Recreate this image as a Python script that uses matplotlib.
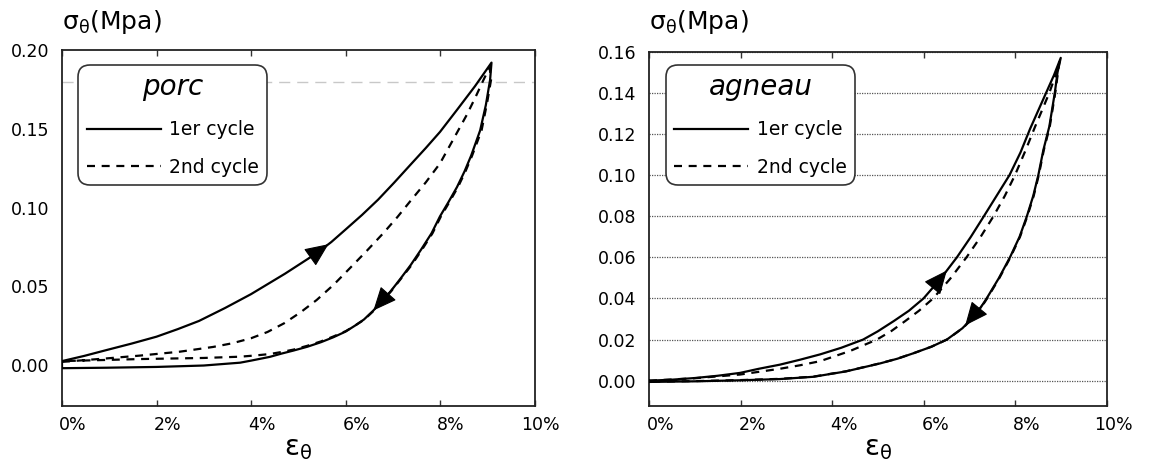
import numpy as np
import matplotlib
matplotlib.use("Agg")
import matplotlib.pyplot as plt
from matplotlib.lines import Line2D
from matplotlib.ticker import FuncFormatter, MultipleLocator
import matplotlib.transforms as mtransforms

# ---------------- data : porc ----------------
porc_c1_load_x = [0.0, 0.0047, 0.0094, 0.0147, 0.020, 0.0245, 0.029, 0.0345, 0.040, 0.0472, 0.054, 0.0570,
                  0.060, 0.0635, 0.0669, 0.0703, 0.0737, 0.0770, 0.080, 0.0836, 0.0874, 0.0909]
porc_c1_load_y = [0.0025, 0.0058, 0.0095, 0.0136, 0.0180, 0.0228, 0.0280, 0.0362, 0.0450, 0.0580, 0.0712, 0.0781,
                  0.0860, 0.0953, 0.1050, 0.1158, 0.1270, 0.1378, 0.1480, 0.1620, 0.1770, 0.1920]
porc_c1_unload_x = [0.0909, 0.0906, 0.0897, 0.0885, 0.0866, 0.0852, 0.0836, 0.0818, 0.080, 0.0782, 0.076,
                    0.0738, 0.0715, 0.0696, 0.0677, 0.0658, 0.0639, 0.0620, 0.060, 0.0574, 0.0548, 0.0519,
                    0.049, 0.0465, 0.044, 0.040, 0.0377, 0.030, 0.020, 0.0094, 0.0]
porc_c1_unload_y = [0.1920, 0.1810, 0.1650, 0.1490, 0.1330, 0.1230, 0.1130, 0.1035, 0.0944, 0.0836, 0.0733,
                    0.0635, 0.0543, 0.0470, 0.0405, 0.0343, 0.0289, 0.0250, 0.0212, 0.0176, 0.0145, 0.0116,
                    0.0092, 0.0073, 0.0052, 0.0028, 0.0015, -0.0003, -0.0012, -0.0017, -0.0020]
porc_c2_load_x = [0.0, 0.0094, 0.0165, 0.025, 0.032, 0.036, 0.040, 0.0435, 0.047, 0.0505, 0.0539, 0.0575,
                  0.061, 0.0645, 0.068, 0.0710, 0.0737, 0.077, 0.080, 0.0835, 0.0857, 0.0875, 0.0892, 0.0905]
porc_c2_load_y = [0.0020, 0.0042, 0.0060, 0.0085, 0.0115, 0.0138, 0.0170, 0.0210, 0.0265, 0.0335, 0.0413, 0.0510,
                  0.0617, 0.0725, 0.0837, 0.0940, 0.1040, 0.1160, 0.1280, 0.1470, 0.1590, 0.1700, 0.1810, 0.1890]
porc_c2_unload_x = [0.0905, 0.0908, 0.0900, 0.0888, 0.0868, 0.0854, 0.0838, 0.0820, 0.0802, 0.0784, 0.0762,
                    0.0740, 0.0716, 0.0697, 0.0678, 0.0659, 0.0640, 0.0621, 0.0601, 0.0575, 0.0548, 0.0519,
                    0.049, 0.0465, 0.044, 0.0410, 0.0377, 0.030, 0.0165, 0.0]
porc_c2_unload_y = [0.1890, 0.1810, 0.1670, 0.1490, 0.1330, 0.1230, 0.1130, 0.1035, 0.0944, 0.0836, 0.0733,
                    0.0635, 0.0543, 0.0470, 0.0405, 0.0343, 0.0289, 0.0252, 0.0216, 0.0182, 0.0150, 0.0122,
                    0.0098, 0.0083, 0.0070, 0.0061, 0.0053, 0.0045, 0.0038, 0.0025]

# ---------------- data : agneau ----------------
agn_c1_load_x = [0.0, 0.005, 0.010, 0.015, 0.0199, 0.024, 0.0286, 0.033, 0.0374, 0.042, 0.0468, 0.050, 0.0535,
                 0.0568, 0.060, 0.0637, 0.0673, 0.0703, 0.0732, 0.076, 0.0788, 0.0812, 0.0833, 0.0851, 0.0868,
                 0.0885, 0.0900]
agn_c1_load_y = [0.0, 0.0005, 0.0013, 0.0024, 0.0038, 0.0058, 0.0078, 0.0102, 0.0128, 0.0160, 0.0200, 0.0240, 0.0290,
                 0.0340, 0.0400, 0.0495, 0.0600, 0.0698, 0.0800, 0.0900, 0.1000, 0.1110, 0.1225, 0.1315, 0.1400,
                 0.1485, 0.1570]
agn_c1_unload_x = [0.0900, 0.0893, 0.0887, 0.0875, 0.0862, 0.0851, 0.0840, 0.0826, 0.0810, 0.0789, 0.0765,
                   0.0738, 0.0716, 0.0685, 0.0651, 0.0617, 0.0580, 0.0543, 0.0505, 0.0430, 0.0359, 0.0286,
                   0.0199, 0.010, 0.0]
agn_c1_unload_y = [0.1570, 0.1500, 0.1400, 0.1236, 0.1122, 0.1000, 0.0900, 0.0800, 0.0700, 0.0600, 0.0500,
                   0.0400, 0.0325, 0.0255, 0.0200, 0.0165, 0.0135, 0.0107, 0.0084, 0.0045, 0.0019, 0.0008,
                   0.0002, -0.0003, -0.0006]
agn_c2_load_x = [0.0, 0.010, 0.0199, 0.0286, 0.033, 0.0374, 0.044, 0.0498, 0.0530, 0.056, 0.059, 0.0621, 0.0658,
                 0.0694, 0.0725, 0.0753, 0.0778, 0.0800, 0.0823, 0.0844, 0.0860, 0.0875, 0.0887, 0.0897]
agn_c2_load_y = [0.0, 0.0012, 0.0030, 0.0058, 0.0075, 0.0095, 0.0145, 0.0200, 0.0242, 0.0290, 0.0340, 0.0400, 0.0495,
                 0.0600, 0.0700, 0.0800, 0.0900, 0.1000, 0.1120, 0.1236, 0.1320, 0.1400, 0.1475, 0.1550]
agn_c2_unload_x = [0.0897, 0.0894, 0.0888, 0.0876, 0.0863, 0.0852, 0.0841, 0.0827, 0.0811, 0.0790, 0.0766,
                   0.0739, 0.0717, 0.0686, 0.0652, 0.0618, 0.0581, 0.0544, 0.0506, 0.0431, 0.0360, 0.0286,
                   0.0199, 0.010, 0.0]
agn_c2_unload_y = [0.1550, 0.1500, 0.1400, 0.1236, 0.1122, 0.1000, 0.0900, 0.0800, 0.0700, 0.0600, 0.0500,
                   0.0400, 0.0325, 0.0256, 0.0201, 0.0166, 0.0136, 0.0108, 0.0085, 0.0046, 0.0020, 0.0009,
                   0.0003, -0.0002, -0.0005]

# arrow positions (x of tail, x of tip) along branches
porc_arrow_load = (0.0520, 0.0564)
porc_arrow_unload = (0.0702, 0.0659)
agn_arrow_load = (0.0615, 0.0651)
agn_arrow_unload = (0.0732, 0.0691)

x_ticks = [0.0, 0.02, 0.04, 0.06, 0.08, 0.10]
legend_labels = ["1er cycle", "2nd cycle"]
ylabel_text = r"$\mathregular{σ_θ}$(Mpa)"
xlabel_text = r"$\mathregular{ε_θ}$"

W, H = 1154, 461
fig = plt.figure(figsize=(W / 100, H / 100), dpi=100)
ax1 = fig.add_axes([62 / W, 1 - 406 / H, 472.5 / W, 356 / H])
ax2 = fig.add_axes([649 / W, 1 - 406 / H, 457.5 / W, 354.3 / H])

LW = 1.6
DASH = (0, (3.6, 3.0))


def cycle(lx, ly, ux, uy):
    x = np.concatenate([lx, ux, lx[:1]])
    y = np.concatenate([ly, uy, ly[:1]])
    return x, y


def arrow_on(ax, xs, ys, x_tail, x_tip):
    xs = np.asarray(xs, float)
    ys = np.asarray(ys, float)
    o = np.argsort(xs)
    yt = np.interp(x_tail, xs[o], ys[o])
    yh = np.interp(x_tip, xs[o], ys[o])
    ax.annotate("", xy=(x_tip, yh), xytext=(x_tail, yt), zorder=4,
                arrowprops=dict(arrowstyle="-|>,head_length=0.68,head_width=0.30",
                                mutation_scale=22, color="k", lw=0.8,
                                shrinkA=0, shrinkB=0))


def style(ax, ylim, ystep, xoff_px):
    ax.set_xlim(0, 0.10)
    ax.set_ylim(*ylim)
    ax.set_xticks(x_ticks)
    ax.xaxis.set_major_formatter(FuncFormatter(lambda v, p: f"{v * 100:.0f}%"))
    ax.yaxis.set_major_locator(MultipleLocator(ystep))
    ax.yaxis.set_major_formatter(FuncFormatter(lambda v, p: f"{v:.2f}"))
    ax.tick_params(axis="x", direction="in", top=True, bottom=True, length=4,
                   width=1, color="#333333", labelsize=12.5, pad=7)
    ax.tick_params(axis="y", length=0, labelsize=12.5, pad=9)
    off = mtransforms.ScaledTranslation(xoff_px / 100, 0, fig.dpi_scale_trans)
    for lab in ax.get_xticklabels():
        lab.set_horizontalalignment("right")
        lab.set_transform(lab.get_transform() + off)
    for s in ax.spines.values():
        s.set_color("#222222")
        s.set_linewidth(1.3)
    ax.set_xlabel(xlabel_text, fontsize=20, labelpad=0)


def add_legend(ax, title, anchor):
    handles = [Line2D([], [], color="k", lw=LW),
               Line2D([], [], color="k", lw=LW, linestyle=DASH)]
    leg = ax.legend(handles, legend_labels, title=title, loc="upper left",
                    bbox_to_anchor=anchor, borderaxespad=0, fontsize=13.5,
                    title_fontproperties={"style": "italic", "size": 20},
                    handlelength=3.95, handletextpad=0.44, borderpad=0.45,
                    labelspacing=1.0, frameon=True, fancybox=True, framealpha=1,
                    edgecolor="#333333")
    leg.get_frame().set_boxstyle("round", pad=0, rounding_size=0.65)
    leg.get_frame().set_linewidth(1.2)
    leg.set_zorder(10)


# ---- porc panel ----
x, y = cycle(porc_c1_load_x, porc_c1_load_y, porc_c1_unload_x, porc_c1_unload_y)
ax1.plot(x, y, color="k", lw=LW, zorder=3, solid_joinstyle="round")
x, y = cycle(porc_c2_load_x, porc_c2_load_y, porc_c2_unload_x, porc_c2_unload_y)
ax1.plot(x, y, color="k", lw=LW, linestyle=DASH, zorder=3)
ax1.axhline(0.18, color="#c8c8c8", lw=1, linestyle=(0, (8, 5)), zorder=1)
arrow_on(ax1, porc_c1_load_x, porc_c1_load_y, *porc_arrow_load)
arrow_on(ax1, porc_c1_unload_x, porc_c1_unload_y, *porc_arrow_unload)
style(ax1, (-0.026, 0.20), 0.05, 25)
add_legend(ax1, "porc", (0.0345, 0.958))

# ---- agneau panel ----
x, y = cycle(agn_c1_load_x, agn_c1_load_y, agn_c1_unload_x, agn_c1_unload_y)
ax2.plot(x, y, color="k", lw=LW, zorder=3, solid_joinstyle="round")
x, y = cycle(agn_c2_load_x, agn_c2_load_y, agn_c2_unload_x, agn_c2_unload_y)
ax2.plot(x, y, color="k", lw=LW, linestyle=DASH, zorder=3)
ax2.grid(axis="y", linestyle=(0, (1, 1)), color="#555555", lw=0.9, zorder=0)
ax2.set_axisbelow(True)
arrow_on(ax2, agn_c1_load_x, agn_c1_load_y, *agn_arrow_load)
arrow_on(ax2, agn_c1_unload_x, agn_c1_unload_y, *agn_arrow_unload)
style(ax2, (-0.0123, 0.16), 0.02, 26)
add_legend(ax2, "agneau", (0.037, 0.9625))

# y-axis titles above the panels
fig.text(62 / W, 1 - 29 / H, ylabel_text, fontsize=18, ha="left", va="baseline")
fig.text(649 / W, 1 - 29 / H, ylabel_text, fontsize=18, ha="left", va="baseline")

fig.savefig("out.png", dpi=100)
